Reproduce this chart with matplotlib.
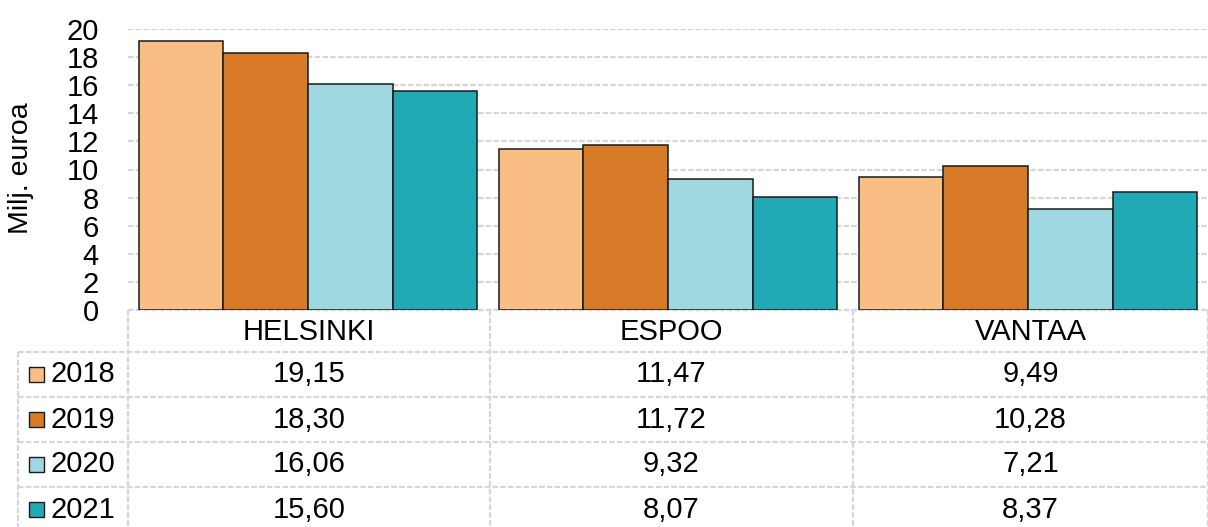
import matplotlib.pyplot as plt
from matplotlib.patches import Rectangle
import numpy as np

plt.rcParams['font.family'] = ['Liberation Sans', 'DejaVu Sans']

# Data
cities = ['HELSINKI', 'ESPOO', 'VANTAA']
years = ['2018', '2019', '2020', '2021']
v2018 = [19.15, 11.47, 9.49]
v2019 = [18.30, 11.72, 10.28]
v2020 = [16.06, 9.32, 7.21]
v2021 = [15.60, 8.07, 8.37]
values = [v2018, v2019, v2020, v2021]
colors = ['#F9BE84', '#D77B28', '#A0D8E2', '#22A9B6']

W, H = 1208, 527
fig = plt.figure(figsize=(W / 100, H / 100), dpi=100)

# table layer in pixel coordinates (drawn first, behind the chart)
tab = fig.add_axes([0, 0, 1, 1], zorder=0)
tab.set_xlim(0, W)
tab.set_ylim(H, 0)
tab.axis('off')

# chart area
left, right, top, bottom = 128, 1208, 29, 310
ax = fig.add_axes([left / W, 1 - bottom / H, (right - left) / W, (bottom - top) / H], zorder=1)
ax.patch.set_alpha(0)

grid_kw = dict(color='#d6d6d6', lw=1.6, ls=(0, (2.5, 1)))

x = np.arange(len(cities))
bw = 0.94 / 4
for j, (vals, c) in enumerate(zip(values, colors)):
    ax.bar(x + (j - 1.5) * bw, vals, bw, color=c, edgecolor='#1a1a1a', lw=1.1, zorder=3)

ax.set_xlim(-0.5, 2.5)
ax.set_ylim(0, 20)
ax.set_yticks(range(0, 21, 2))
ax.yaxis.grid(True, **grid_kw)
ax.set_axisbelow(True)
ax.set_xticks([])
ax.tick_params(axis='y', length=0, labelsize=21, pad=21)
for s in ax.spines.values():
    s.set_visible(False)
ax.set_ylabel('Milj. euroa', fontsize=20.5)
# place label so its right edge sits at ~34 px from the figure's left edge
ax.yaxis.set_label_coords(-(128 - 34) / (right - left), 1 - (168 - top) / (bottom - top))

# data table below the chart
col_x = [128, 490, 853, 1208]
row_y = [310, 352, 397, 442, 487, 532]
lab_x0 = 18

# horizontal lines
tab.plot([col_x[0], col_x[-1]], [row_y[0], row_y[0]], **grid_kw)
for y in row_y[1:-1]:
    tab.plot([lab_x0, col_x[-1]], [y, y], **grid_kw)
# vertical lines
for xv in col_x:
    tab.plot([xv, xv], [row_y[0], H], **grid_kw)
tab.plot([lab_x0, lab_x0], [row_y[1], H], **grid_kw)

fs = 21
for i, city in enumerate(cities):
    cx = (col_x[i] + col_x[i + 1]) / 2
    tab.text(cx, (row_y[0] + row_y[1]) / 2 + 1, city, ha='center', va='center', fontsize=fs)
    for j in range(len(years)):
        cy = (row_y[j + 1] + row_y[j + 2]) / 2
        txt = f'{values[j][i]:.2f}'.replace('.', ',')
        tab.text(cx, cy, txt, ha='center', va='center', fontsize=fs)

for j, (yr, c) in enumerate(zip(years, colors)):
    cy = (row_y[j + 1] + row_y[j + 2]) / 2
    tab.add_patch(Rectangle((29, cy - 7.5), 15, 15, facecolor=c, edgecolor='#1a1a1a', lw=1))
    tab.text(51, cy, yr, ha='left', va='center', fontsize=fs)

fig.savefig('out.png', dpi=100)
